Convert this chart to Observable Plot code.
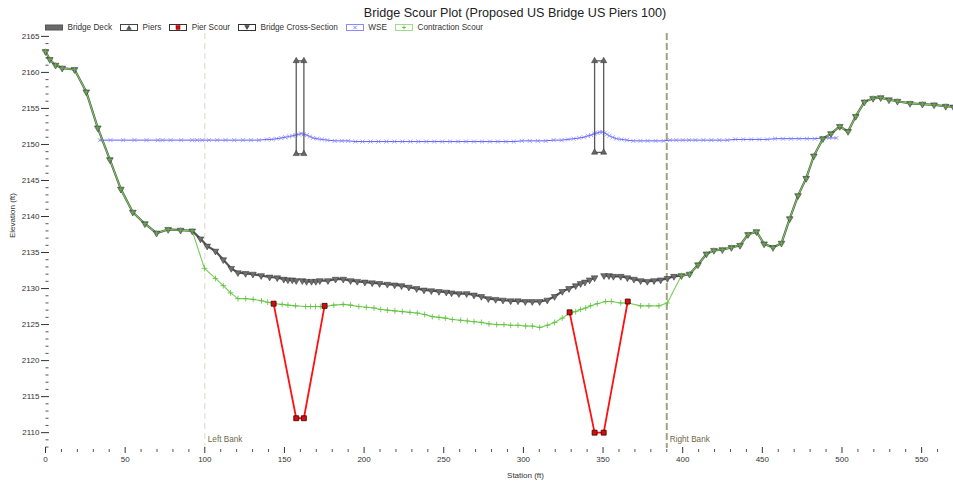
<!DOCTYPE html>
<html><head><meta charset="utf-8">
<script src="https://cdn.jsdelivr.net/npm/d3@7"></script>
<script src="https://cdn.jsdelivr.net/npm/@observablehq/plot@0.6"></script>
<style>
body{margin:0;background:#fff;font-family:"Liberation Sans",Arial,sans-serif;}
#header{position:relative;width:953px;height:33px;}
#title{position:absolute;left:515px;top:6px;transform:translateX(-50%);white-space:nowrap;font-size:12.6px;color:#222;}
#legend{position:absolute;left:45px;top:23px;display:flex;align-items:center;font-size:8.2px;color:#333;white-space:nowrap;}
.item{display:flex;align-items:center;margin-right:8px;}
.item svg{margin-right:4.5px;display:block;}
#chart svg{display:block;}
</style></head>
<body>
<div id="header"><div id="title"></div><div id="legend"></div></div>
<div id="chart"></div>
<script>
const titleText = "Bridge Scour Plot (Proposed US Bridge US Piers 100)";
const legendLabels = ["Bridge Deck", "Piers", "Pier Scour", "Bridge Cross-Section", "WSE", "Contraction Scour"];

// Ground (bridge cross-section); NaN marks the break at each pier
const groundStation = [0,2.7,6.3,10.5,18.2,25.6,32.8,40.4,47.3,54.8,62.4,69.7,77.0,84.8,92.1,97.3,101.5,106.7,111.6,116.6,120.8,125.6,130.2,135.4,140.7,145.5,149.6,152.2,154.9,157.4,159.5,161.2,163.9,167.0,169.7,172.2,177.3,182.1,186.9,191.5,195.7,200.5,205.1,209.7,214.6,219.2,223.5,228.1,233.0,237.6,242.2,247.0,251.6,254.9,259.5,264.4,269.0,273.6,278.0,282.6,287.2,292.0,296.6,301.2,305.6,310.2,315.0,319.6,324.4,328.6,332.8,335.9,338.6,341.6,344.7,347.5,350.6,353.7,356.5,361.1,365.3,369.4,373.6,377.8,382.0,386.2,390.4,394.5,399.2,404.3,409.6,414.9,419.6,424.9,430.6,436.0,441.0,446.3,451.1,456.7,462.0,467.2,472.4,477.5,482.3,488.0,493.1,498.6,503.8,508.6,514.1,519.5,524.3,529.5,534.8,542.7,550.5,557.8,565.1,570.0];
const groundElev = [2162.9,2161.8,2161.0,2160.6,2160.4,2157.3,2152.3,2147.9,2143.8,2140.6,2139.0,2137.7,2138.2,2138.1,2138.0,2136.9,2135.9,2135.2,2134.0,2132.8,2132.2,2132.1,2132.0,2131.8,2131.6,2131.5,2131.3,2131.2,2131.2,2131.1,NaN,2131.1,2131.0,2131.0,2131.0,2131.1,2131.1,2131.3,2131.3,2131.1,2131.0,2130.9,2130.8,2130.7,2130.6,2130.5,2130.4,2130.2,2130.0,2129.8,2129.7,2129.6,2129.5,2129.4,2129.3,2129.3,2129.1,2128.9,2128.6,2128.5,2128.4,2128.3,2128.3,2128.2,2128.2,2128.2,2128.4,2128.9,2129.6,2130.0,2130.4,2130.7,2130.9,2131.2,2131.5,NaN,2131.8,2131.8,2131.7,2131.7,2131.5,2131.3,2131.1,2131.0,2131.1,2131.2,2131.4,2131.7,2131.8,2132.0,2133.3,2134.8,2135.3,2135.4,2135.7,2136.0,2137.5,2137.9,2136.2,2135.7,2136.3,2139.7,2142.9,2145.3,2148.4,2150.8,2151.5,2152.5,2151.8,2153.9,2155.9,2156.4,2156.5,2156.2,2156.0,2155.7,2155.6,2155.5,2155.3,2155.2];

// Contraction scour inside the bridge opening (outside it follows the ground)
const scourStation = [99.8,106.7,111.6,116.2,120.8,125.6,130.4,135.6,139.5,143.8,148.6,152.2,157.0,163.3,166.4,169.5,172.5,175.4,181.0,186.9,191.5,196.7,201.4,206.2,210.4,214.6,219.3,224.0,228.8,233.4,238.0,242.8,247.0,251.0,255.4,260.6,264.8,269.0,273.6,278.4,283.2,287.8,292.0,296.6,301.4,305.6,310.2,315.0,319.6,324.4,329.2,332.8,335.9,339.1,342.2,346.4,351.6,355.2,361.1,365.7,373.6,378.8,385.1,390.4];
const scourElev = [2132.8,2131.4,2130.4,2129.4,2128.6,2128.6,2128.5,2128.3,2128.1,2127.9,2127.8,2127.7,2127.6,2127.5,2127.5,2127.5,2127.5,2127.5,2127.7,2127.8,2127.7,2127.5,2127.4,2127.3,2127.1,2127.0,2126.9,2126.8,2126.7,2126.6,2126.4,2126.1,2126.0,2125.9,2125.7,2125.6,2125.5,2125.4,2125.3,2125.1,2125.0,2125.0,2124.9,2124.9,2124.8,2124.8,2124.6,2124.9,2125.3,2125.9,2126.6,2126.8,2127.1,2127.3,2127.6,2127.9,2128.2,2128.2,2128.0,2128.0,2127.6,2127.6,2127.6,2128.0];
const scourFrom = 99, scourTo = 392;

// Water surface
const wseStation = [34.1,40.8,48.8,55.9,63.4,70.5,73.5,78.5,85.2,92.1,95.2,98.4,102.6,107.8,113.0,118.5,124.0,129.0,134.0,139.0,142.0,145.0,148.0,150.5,153.0,155.0,157.0,159.0,160.5,162.0,164.0,166.0,168.0,170.5,173.5,177.0,181.5,186.0,190.0,194.5,199.0,204.0,209.0,214.0,219.0,224.0,229.0,234.0,239.0,244.0,249.0,254.0,259.0,264.0,269.0,274.0,279.0,284.0,289.0,294.0,299.0,304.0,309.0,314.0,319.0,324.0,328.0,331.5,335.0,338.0,340.5,342.5,344.5,346.5,348.0,349.5,351.0,352.5,354.0,356.0,358.5,361.5,365.0,369.0,373.5,378.0,383.0,388.0,392.0,396.0,400.0,404.0,408.0,413.0,418.0,423.0,428.0,433.0,438.0,443.0,448.0,453.0,458.0,463.0,468.0,473.0,478.0,483.0,488.0,492.0,496.5];
const wseElev = [2150.6,2150.6,2150.6,2150.6,2150.6,2150.6,2150.6,2150.6,2150.6,2150.6,2150.6,2150.6,2150.6,2150.6,2150.6,2150.6,2150.6,2150.6,2150.6,2150.7,2150.7,2150.8,2150.9,2151.0,2151.1,2151.2,2151.3,2151.4,2151.5,2151.4,2151.3,2151.1,2150.9,2150.8,2150.7,2150.6,2150.5,2150.5,2150.5,2150.4,2150.4,2150.4,2150.4,2150.4,2150.4,2150.4,2150.4,2150.4,2150.4,2150.4,2150.4,2150.4,2150.4,2150.4,2150.4,2150.4,2150.4,2150.4,2150.4,2150.4,2150.5,2150.5,2150.5,2150.5,2150.6,2150.6,2150.7,2150.8,2150.9,2151.0,2151.2,2151.3,2151.5,2151.6,2151.7,2151.7,2151.6,2151.4,2151.2,2151.0,2150.8,2150.7,2150.6,2150.5,2150.5,2150.5,2150.5,2150.5,2150.6,2150.6,2150.6,2150.6,2150.6,2150.6,2150.6,2150.6,2150.6,2150.7,2150.7,2150.7,2150.7,2150.7,2150.8,2150.8,2150.8,2150.8,2150.8,2150.8,2150.9,2150.9,2150.9];

// Piers (outline corners) and pier scour holes
const pierId = ["L","L","L","L","L","R","R","R","R","R"];
const pierStation = [157.4,157.4,162.2,162.2,157.4,344.7,344.7,350.4,350.4,344.7];
const pierElev = [2148.7,2161.6,2161.6,2148.7,2148.7,2148.9,2161.6,2161.6,2148.9,2148.9];
const pierScourId = ["L","L","L","L","R","R","R","R"];
const pierScourStation = [143.2,157.4,162.2,175.2,329.0,344.7,350.4,365.5];
const pierScourElev = [2127.9,2112.0,2112.0,2127.6,2126.7,2110.0,2110.0,2128.2];

const leftBank = 100, rightBank = 390;
const bankLabels = ["Left Bank", "Right Bank"];
const xTicks = [0,50,100,150,200,250,300,350,400,450,500,550];
const yTicks = [2110,2115,2120,2125,2130,2135,2140,2145,2150,2155,2160,2165];
const xLabel = "Station (ft)", yLabel = "Elevation (ft)";

// ---- build tables
const ground = groundStation.map((s,i)=>({s, e: groundElev[i]}));
const groundValid = ground.filter(d=>!isNaN(d.e));
const contraction = [
  ...groundValid.filter(d=>d.s < scourFrom - 6),
  ...scourStation.map((s,i)=>({s, e: scourElev[i]})),
  ...groundValid.filter(d=>d.s > scourTo + 5)
];
const wse = wseStation.map((s,i)=>({s, e: wseElev[i]}));
const piers = pierStation.map((s,i)=>({id: pierId[i], s, e: pierElev[i]}));
const pierCorners = piers.filter((d,i)=> i%5 !== 4);
const pierScour = pierScourStation.map((s,i)=>({id: pierScourId[i], s, e: pierScourElev[i]}));

const xMinor = d3.range(0, 571, 10).filter(v=>v%50!==0);
const yMinor = d3.range(2108, 2166, 1).filter(v=>v%5!==0);

document.getElementById("title").textContent = titleText;

// ---- legend
const sw = {
  "Bridge Deck": `<svg width="18" height="7"><rect x="0.5" y="1" width="17" height="5" fill="#6a6a6a" stroke="#555"/></svg>`,
  "Piers": `<svg width="18" height="7"><rect x="0.5" y="0.5" width="17" height="6" fill="#fff" stroke="#444"/><path d="M9,1.6 L11.3,5.4 L6.7,5.4Z" fill="#555" stroke="#333" stroke-width="0.5"/></svg>`,
  "Pier Scour": `<svg width="18" height="7"><rect x="0.5" y="0.5" width="17" height="6" fill="#fff" stroke="#333"/><rect x="7" y="1.6" width="4" height="3.8" fill="#e00" stroke="#600" stroke-width="0.5"/></svg>`,
  "Bridge Cross-Section": `<svg width="18" height="7"><rect x="0.5" y="0.5" width="17" height="6" fill="#fff" stroke="#333"/><path d="M6.7,1.6 L11.3,1.6 L9,5.4Z" fill="#555" stroke="#222" stroke-width="0.5"/></svg>`,
  "WSE": `<svg width="18" height="7"><rect x="0.5" y="0.5" width="17" height="6" fill="#fff" stroke="#8a8aff"/><path d="M7.3,1.8 L10.7,5.2 M10.7,1.8 L7.3,5.2" stroke="#6a6aff" stroke-width="0.8"/></svg>`,
  "Contraction Scour": `<svg width="18" height="7"><rect x="0.5" y="0.5" width="17" height="6" fill="#fff" stroke="#9fdc8a"/><path d="M9,1.5 L9,5.5 M7,3.5 L11,3.5" stroke="#55bb33" stroke-width="0.8"/></svg>`
};
const lg = document.getElementById("legend");
legendLabels.forEach(l=>{
  const d = document.createElement("div"); d.className="item";
  d.innerHTML = sw[l] + `<span>${l}</span>`;
  lg.appendChild(d);
});

// ---- chart
const font = "Liberation Sans, Arial, sans-serif";
const chart = Plot.plot({
  width: 953, height: 449,
  marginLeft: 45, marginRight: 0, marginTop: 0, marginBottom: 34,
  x: {domain: [0, 570]},
  y: {domain: [2107.8, 2165.4]},
  style: {fontFamily: font, fontSize: "8px", color: "#333", background: "#fff", overflow: "visible"},
  marks: [
    Plot.ruleX([leftBank], {stroke: "#e3e0d4", strokeWidth: 1.2, strokeDasharray: "6,4"}),
    Plot.ruleX([rightBank], {stroke: "#a3a286", strokeWidth: 2, strokeDasharray: "7,3"}),
    Plot.text([leftBank, rightBank], {x: d=>d, text: (d,i)=>bankLabels[i], frameAnchor: "bottom", dy: -7, dx: 3, textAnchor: "start", fill: "#6e6a48", fontSize: 8.2}),
    Plot.axisY({ticks: yTicks, tickSize: 8, dx: 4, tickPadding: 2, label: null, tickFormat: d=>String(d), stroke: "#333"}),
    Plot.axisY({ticks: yMinor, tickSize: 3, dx: 3.5, text: null, label: null, stroke: "#555"}),
    Plot.axisX({ticks: xTicks, tickSize: 6, dy: -1, tickPadding: 3, label: null, tickFormat: d=>String(d), stroke: "#333"}),
    Plot.axisX({ticks: xMinor, tickSize: 3, dy: 1, text: null, label: null, stroke: "#555"}),
    Plot.text([yLabel], {text: d=>d, frameAnchor: "left", rotate: -90, dx: -33, dy: -3, fill: "#333", fontSize: 8}),
    Plot.text([xLabel], {text: d=>d, frameAnchor: "bottom", dx: 26, dy: 29, fill: "#333", fontSize: 8}),
    // water surface
    Plot.line(wse, {x: "s", y: "e", stroke: "#4a4aff", strokeWidth: 0.9}),
    Plot.dot(wse, {x: "s", y: "e", symbol: "times", r: 2, stroke: "#8a8aff", strokeWidth: 0.8}),
    // piers
    Plot.line(piers, {x: "s", y: "e", z: "id", stroke: "#5a5a5a", strokeWidth: 1.3}),
    Plot.dot(pierCorners, {x: "s", y: "e", symbol: "triangle", r: 2.3, fill: "#666", stroke: "#333", strokeWidth: 0.5}),
    // ground + contraction scour
    Plot.line(ground, {x: "s", y: "e", stroke: "#555", strokeWidth: 2.2}),
    Plot.line(contraction, {x: "s", y: "e", stroke: "#7acb58", strokeWidth: 1.1}),
    Plot.dot(groundValid, {x: "s", y: "e", symbol: "triangle", rotate: 180, r: 2.5, fill: "#6e6e6e", stroke: "#2e2e2e", strokeWidth: 0.5}),
    Plot.dot(contraction, {x: "s", y: "e", symbol: "plus", r: 2, stroke: "#5cc03a", strokeWidth: 0.8}),
    // pier scour
    Plot.line(pierScour, {x: "s", y: "e", z: "id", stroke: "#ff1010", strokeWidth: 1.8}),
    Plot.dot(pierScour, {x: "s", y: "e", symbol: "square", r: 2.8, fill: "#d01010", stroke: "#3a0000", strokeWidth: 0.8})
  ]
});
document.getElementById("chart").appendChild(chart);
</script>
</body></html>
